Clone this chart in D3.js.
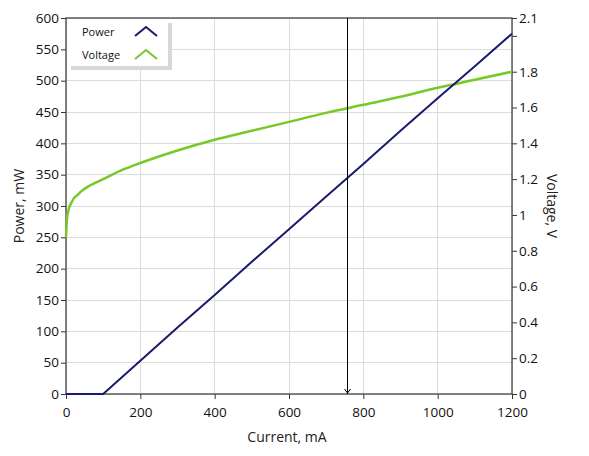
<!DOCTYPE html>
<html><head><meta charset="utf-8">
<script src="https://cdn.jsdelivr.net/npm/d3@7"></script>
<style>
body{margin:0;background:#fff;}
text{font-family:"Segoe UI","Open Sans","Noto Sans",sans-serif;}
</style></head><body>
<svg id="c" width="589" height="456"></svg>
<script>
// Data
const powerCurrent = [0, 50, 100, 200, 300, 400, 500, 600, 700, 800, 900, 1000, 1100, 1200];
const powerValues  = [0, 0, 0, 53, 106, 158, 211, 263, 315, 367, 420, 472, 523, 575];
const voltCurrent = [0, 1, 2, 4, 7, 10, 15, 20, 30, 40, 60, 80, 100, 150, 200, 300, 400, 500, 600, 700, 800, 900, 1000, 1100, 1200];
const voltValues  = [0.875, 0.92, 0.96, 1.0, 1.03, 1.05, 1.07, 1.09, 1.11, 1.13, 1.16, 1.18, 1.2, 1.25, 1.29, 1.36, 1.42, 1.47, 1.52, 1.57, 1.615, 1.66, 1.71, 1.755, 1.80];
const xTicks = [0, 200, 400, 600, 800, 1000, 1200];
const yLeftTicks = [0, 50, 100, 150, 200, 250, 300, 350, 400, 450, 500, 550, 600];
const yRightTicks = [0, 0.2, 0.4, 0.6, 0.8, 1, 1.2, 1.4, 1.6, 1.8, 2.0, 2.1];
const cursorCurrent = 755;
const legendItems = ["Power", "Voltage"];
const colors = {Power: "#1b1b6b", Voltage: "#78c828"};

const svg = d3.select("#c");
const L = 66, R = 512, T = 18, B = 394;
const x = d3.scaleLinear().domain([0, 1200]).range([L, R]);
const yL = d3.scaleLinear().domain([0, 600]).range([B, T]);
const yR = d3.scaleLinear().domain([0, 2.1]).range([B, T]);

// grid
svg.append("g").selectAll("line").data(xTicks).join("line")
  .attr("x1", d => x(d)).attr("x2", d => x(d)).attr("y1", T).attr("y2", B)
  .attr("stroke", "#dcdcdc").attr("stroke-width", 1).attr("shape-rendering","crispEdges");
svg.append("g").selectAll("line").data(yLeftTicks).join("line")
  .attr("x1", L).attr("x2", R).attr("y1", d => yL(d)).attr("y2", d => yL(d))
  .attr("stroke", "#dcdcdc").attr("stroke-width", 1).attr("shape-rendering","crispEdges");

// axes
const fs = "13.5px";
const gx = svg.append("g").attr("transform", `translate(0,${B})`)
  .call(d3.axisBottom(x).tickValues(xTicks).tickSize(5).tickPadding(8).tickFormat(d3.format("d")));
const gl = svg.append("g").attr("transform", `translate(${L},0)`)
  .call(d3.axisLeft(yL).tickValues(yLeftTicks).tickSize(5).tickPadding(2));
const gr = svg.append("g").attr("transform", `translate(${R},0)`)
  .call(d3.axisRight(yR).tickValues(yRightTicks).tickSize(5).tickPadding(2)
    .tickFormat(d => d === 2.0 ? "" : (d === 0 ? "0" : d3.format("~g")(d))));
[gx, gl, gr].forEach(g => {
  g.selectAll("text").style("font-size", fs).attr("fill", "#111");
  g.selectAll(".tick line").attr("stroke", "#333");
  g.select(".domain").remove();
});
// frame
svg.append("rect").attr("x", L).attr("y", T).attr("width", R - L).attr("height", B - T)
  .attr("fill", "none").attr("stroke", "#444").attr("stroke-width", 1.3);

// lines
const lineP = d3.line().x((d, i) => x(powerCurrent[i])).y(d => yL(d));
const lineV = d3.line().x((d, i) => x(voltCurrent[i])).y(d => yR(d)).curve(d3.curveMonotoneX);
svg.append("path").datum(voltValues).attr("d", lineV).attr("fill", "none")
  .attr("stroke", colors.Voltage).attr("stroke-width", 2.5);
svg.append("path").datum(powerValues).attr("d", lineP).attr("fill", "none")
  .attr("stroke", colors.Power).attr("stroke-width", 2);

// cursor
const cx = Math.round(x(cursorCurrent)) + 0.5;
svg.append("line").attr("x1", cx).attr("x2", cx).attr("y1", T).attr("y2", B)
  .attr("stroke", "#000").attr("stroke-width", 1);
svg.append("path").attr("d", `M${cx-3},${B-5}L${cx},${B-1}L${cx+3},${B-5}`)
  .attr("fill", "none").attr("stroke", "#000").attr("stroke-width", 1);

// legend
const lg = svg.append("g");
lg.append("rect").attr("x", 71).attr("y", 23).attr("width", 101).attr("height", 47).attr("fill", "#d8d8d8");
lg.append("rect").attr("x", 67).attr("y", 19).attr("width", 101).attr("height", 47).attr("fill", "#fff");
legendItems.forEach((k, i) => {
  const yy = 32 + i * 23;
  lg.append("text").attr("x", 82).attr("y", yy + 4).text(k).style("font-size", "11px").attr("fill", "#111");
  lg.append("path").attr("d", `M135,${yy+4}L146,${yy-5}L157,${yy+4}`).attr("fill", "none")
    .attr("stroke", colors[k]).attr("stroke-width", 2);
});

// axis titles
svg.append("text").attr("x", (L + R) / 2 - 2).attr("y", 442).attr("text-anchor", "middle")
  .style("font-size", "14px").attr("fill", "#222").text("Current, mA");
svg.append("text").attr("transform", `translate(24,${(T+B)/2}) rotate(-90)`).attr("text-anchor", "middle")
  .style("font-size", "14px").attr("fill", "#222").text("Power, mW");
svg.append("text").attr("transform", `translate(547,${(T+B)/2}) rotate(90)`).attr("text-anchor", "middle")
  .style("font-size", "14px").attr("fill", "#222").text("Voltage, V");
</script></body></html>
